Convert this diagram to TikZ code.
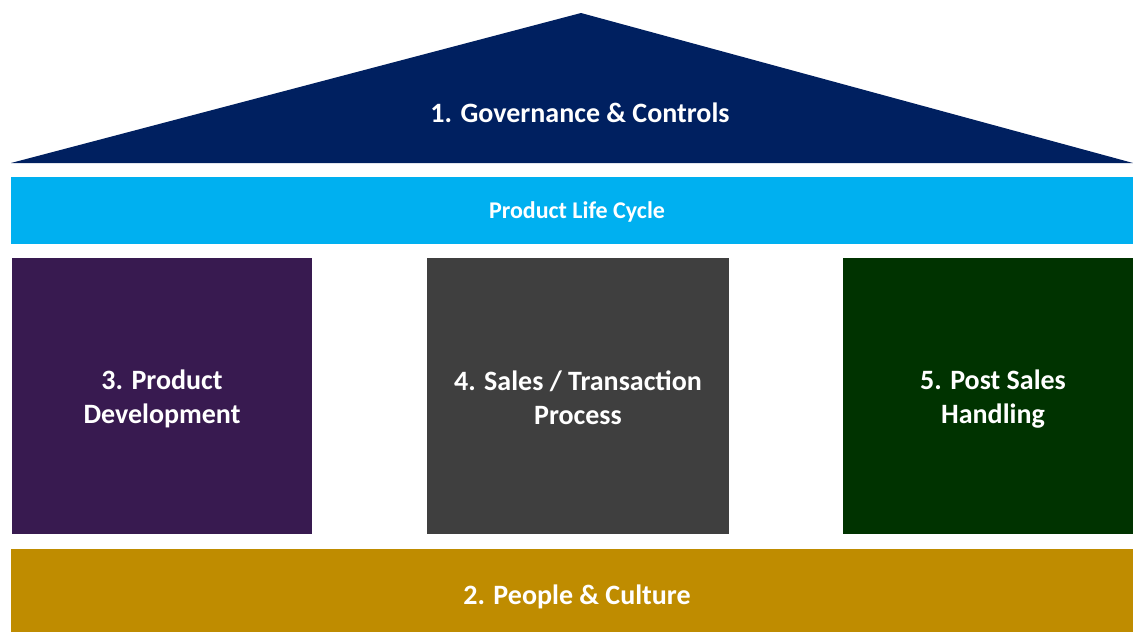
\documentclass[tikz,border=0pt]{standalone}
\usepackage{fontspec}
\setmainfont{Carlito}
\definecolor{navy}{HTML}{002060}
\definecolor{cyanbar}{HTML}{00B0F0}
\definecolor{purplebox}{HTML}{381A50}
\definecolor{graybox}{HTML}{3F3F3F}
\definecolor{greenbox}{HTML}{003300}
\definecolor{goldbar}{HTML}{BF8C00}
\begin{document}
\begin{tikzpicture}[x=1pt,y=-1pt,
  lbl/.style={text=white,font=\bfseries\fontsize{28}{34}\selectfont,align=center,inner sep=0pt},
  small/.style={text=white,font=\bfseries\fontsize{24}{28}\selectfont,align=center,inner sep=0pt},
  blk/.style={inner sep=0pt,outer sep=0pt,anchor=north west,draw=none}]
\useasboundingbox[fill=white] (0,0) rectangle (1133,632);
% roof
\fill[navy] (11,163) -- (581,13) -- (1133,163) -- cycle;
\node[lbl] (gov) at (580,113) {1. Governance \& Controls};
% life cycle bar
\node[blk,fill=cyanbar,minimum width=1122pt,minimum height=67pt] (plc) at (11,177) {};
\node[small] (plct) at (577,212) {Product Life Cycle};
% pillars
\node[blk,fill=purplebox,minimum width=300pt,minimum height=276pt] (p3) at (12,258) {};
\node[lbl] (p3t) at (162,399) {3. Product\\Development};
\node[blk,fill=graybox,minimum width=302pt,minimum height=276pt] (p4) at (427,258) {};
\node[lbl] (p4t) at (578,398) {4. Sales / Transaction\\Process};
\node[blk,fill=greenbox,minimum width=290pt,minimum height=276pt] (p5) at (843,258) {};
\node[lbl] (p5t) at (993,399) {5. Post Sales\\Handling};
% foundation
\node[blk,fill=goldbar,minimum width=1122pt,minimum height=83pt] (pc) at (11,549) {};
\node[lbl] (pct) at (577,597) {2. People \& Culture};
\end{tikzpicture}
\end{document}
